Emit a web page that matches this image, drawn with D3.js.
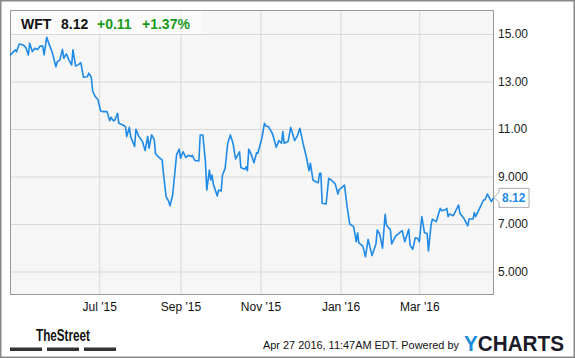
<!DOCTYPE html>
<html><head><meta charset="utf-8">
<script src="https://cdn.jsdelivr.net/npm/d3@7"></script>
<style>body{margin:0;background:#fff}svg{display:block;font-family:"Liberation Sans",Arial,sans-serif}</style>
</head><body><svg id="c" width="575" height="358"></svg>
<script>
const dates = ["2015-04-24","2015-04-28","2015-04-29","2015-05-01","2015-05-04","2015-05-06","2015-05-08","2015-05-09","2015-05-11","2015-05-13","2015-05-15","2015-05-17","2015-05-19","2015-05-20","2015-05-22","2015-05-24","2015-05-26","2015-05-29","2015-05-30","2015-06-01","2015-06-03","2015-06-04","2015-06-06","2015-06-08","2015-06-10","2015-06-11","2015-06-13","2015-06-15","2015-06-17","2015-06-19","2015-06-22","2015-06-23","2015-06-25","2015-06-26","2015-06-28","2015-06-30","2015-07-02","2015-07-04","2015-07-07","2015-07-09","2015-07-10","2015-07-12","2015-07-13","2015-07-15","2015-07-16","2015-07-19","2015-07-21","2015-07-22","2015-07-24","2015-07-25","2015-07-28","2015-07-29","2015-07-31","2015-08-03","2015-08-05","2015-08-07","2015-08-08","2015-08-10","2015-08-12","2015-08-13","2015-08-15","2015-08-18","2015-08-19","2015-08-21","2015-08-23","2015-08-24","2015-08-26","2015-08-29","2015-08-31","2015-09-01","2015-09-03","2015-09-05","2015-09-07","2015-09-09","2015-09-10","2015-09-12","2015-09-15","2015-09-16","2015-09-18","2015-09-20","2015-09-21","2015-09-23","2015-09-24","2015-09-25","2015-09-26","2015-09-29","2015-09-30","2015-10-02","2015-10-03","2015-10-05","2015-10-07","2015-10-09","2015-10-11","2015-10-13","2015-10-16","2015-10-17","2015-10-20","2015-10-21","2015-10-22","2015-10-23","2015-10-25","2015-10-27","2015-10-29","2015-10-30","2015-11-02","2015-11-04","2015-11-05","2015-11-07","2015-11-10","2015-11-13","2015-11-15","2015-11-17","2015-11-18","2015-11-19","2015-11-22","2015-11-24","2015-11-27","2015-11-29","2015-12-01","2015-12-04","2015-12-06","2015-12-08","2015-12-09","2015-12-11","2015-12-13","2015-12-15","2015-12-16","2015-12-17","2015-12-18","2015-12-21","2015-12-23","2015-12-25","2015-12-28","2015-12-30","2015-12-31","2016-01-04","2016-01-06","2016-01-08","2016-01-11","2016-01-13","2016-01-14","2016-01-15","2016-01-18","2016-01-20","2016-01-22","2016-01-25","2016-01-28","2016-01-29","2016-01-31","2016-02-02","2016-02-04","2016-02-05","2016-02-08","2016-02-09","2016-02-12","2016-02-16","2016-02-17","2016-02-19","2016-02-22","2016-02-23","2016-02-25","2016-02-27","2016-02-29","2016-03-01","2016-03-03","2016-03-05","2016-03-07","2016-03-08","2016-03-10","2016-03-11","2016-03-14","2016-03-17","2016-03-18","2016-03-21","2016-03-22","2016-03-23","2016-03-24","2016-03-27","2016-03-31","2016-04-01","2016-04-04","2016-04-07","2016-04-08","2016-04-11","2016-04-12","2016-04-13","2016-04-16","2016-04-19","2016-04-20","2016-04-22","2016-04-25","2016-04-27"];
const prices = [14.1,14.33,14.25,14.58,14.54,14.44,14.12,14.61,14.26,14.4,14.35,14.49,14.49,14.12,14.86,14.54,14.26,13.62,13.83,13.9,14.35,13.98,14.16,13.9,13.69,14.33,13.65,13.7,13.79,13.18,13.2,13.35,13.18,12.6,12.36,12.25,11.77,11.73,11.73,11.35,11.49,11.34,11.38,11.66,11.24,11.17,11.1,10.68,11.07,10.68,10.26,10.99,10.71,10.47,10.09,10.68,10.19,10.75,10.54,9.95,9.84,9.69,9.13,8.15,7.95,7.77,8.22,9.91,10.15,9.77,10.04,9.8,9.89,9.84,9.89,9.67,9.65,10.75,10.75,9.62,8.43,9.27,8.85,9.06,8.68,8.18,8.43,8.39,9.06,9.34,10.4,10.75,10.4,9.74,10.04,9.38,9.3,9.41,9.24,10.15,9.91,9.58,10.0,9.98,10.61,11.24,11.13,11.1,10.82,10.23,10.51,10.4,10.89,10.4,10.47,11.07,10.51,10.7,11.03,10.26,9.81,9.24,9.56,8.85,8.78,8.74,9.13,9.13,7.87,7.84,8.92,8.85,8.68,8.26,8.45,8.64,7.73,7.0,6.89,6.25,6.63,6.2,6.07,5.62,6.35,5.67,6.16,6.75,6.54,5.98,7.41,6.96,6.75,6.16,6.49,6.68,6.72,6.25,6.78,6.12,5.93,6.42,6.39,6.25,7.31,6.63,6.6,5.86,6.96,7.2,7.1,7.66,7.56,7.6,7.66,7.31,7.42,7.35,7.8,7.45,7.24,6.92,7.21,7.21,7.48,7.31,7.66,8.01,8.01,8.26,7.94,8.12];
const yTicks = [5,7,9,11,13,15];
const yTickLabels = ["5.000","7.000","9.000","11.00","13.00","15.00"];
const xTicks = ["2015-07-01","2015-09-01","2015-11-01","2016-01-01","2016-03-01"];
const xTickLabels = ["Jul '15","Sep '15","Nov '15","Jan '16","Mar '16"];
const ticker = "WFT", lastPrice = "8.12", change = "+0.11", changePct = "+1.37%";
const footerText = "Apr 27 2016, 11:47AM EDT. Powered by";

const parse = d3.timeParse("%Y-%m-%d");
const data = dates.map((d,i)=>({date:parse(d), v:prices[i]}));
const svg = d3.select("#c");
const L=10,T=10,R=494,B=295;
const x = d3.scaleTime().domain([parse("2015-04-24"), parse("2016-04-27")]).range([L,R]);
const y = d3.scaleLinear().domain([4.01,16.01]).range([B,T]);

svg.append("rect").attr("x",0.75).attr("y",0.75).attr("width",573.5).attr("height",356.5).attr("fill","#fff").attr("stroke","#888").attr("stroke-width",1.5);
svg.append("rect").attr("x",L).attr("y",T).attr("width",R-L).attr("height",B-T).attr("fill","#f6f6f6");

const gx = svg.append("g").attr("transform",`translate(0,${B})`)
  .call(d3.axisBottom(x).tickValues(xTicks.map(parse)).tickSize(-(B-T)).tickFormat((d,i)=>xTickLabels[i]));
gx.select(".domain").remove();
gx.selectAll("line").attr("stroke","#d8d8d8");
gx.selectAll("text").attr("font-size",12).attr("fill","#111").attr("dy",0).attr("y",16).attr("font-family","Liberation Sans, Arial, sans-serif");

const gy = svg.append("g").attr("transform",`translate(${R},0)`)
  .call(d3.axisRight(y).tickValues(yTicks).tickSize(-(R-L)).tickFormat((d,i)=>yTickLabels[i]));
gy.select(".domain").remove();
gy.selectAll("line").attr("stroke","#d8d8d8");
gy.selectAll("text").attr("font-size",12).attr("fill","#222").attr("x",4).attr("font-family","Liberation Sans, Arial, sans-serif");

svg.append("rect").attr("x",L+0.5).attr("y",T+0.5).attr("width",R-L-1).attr("height",B-T-1).attr("fill","none").attr("stroke","#999");

const line = d3.line().x(d=>x(d.date)).y(d=>y(d.v));
svg.append("path").datum(data).attr("d",line).attr("fill","none").attr("stroke","#1f8ae6").attr("stroke-width",1.6).attr("stroke-linejoin","round");

// header box
svg.append("rect").attr("x",L+1).attr("y",T+1).attr("width",191).attr("height",23).attr("fill","#fff").attr("opacity",0.55);
const hdr = svg.append("text").attr("y",29).attr("font-size",14).attr("font-weight","bold");
hdr.append("tspan").attr("x",21).attr("fill","#111").text(ticker);
hdr.append("tspan").attr("x",61).attr("fill","#111").text(lastPrice);
hdr.append("tspan").attr("x",97).attr("fill","#1a9a1a").text(change);
hdr.append("tspan").attr("x",142).attr("fill","#1a9a1a").text(changePct);

// last price tag
const last = data[data.length-1];
const ly = y(last.v);
svg.append("path").attr("d",`M${R},${ly} L${R+5},${ly-5} L${R+5},${ly-9} L${R+35},${ly-9} L${R+35},${ly+10} L${R+5},${ly+10} L${R+5},${ly+5} Z`)
  .attr("fill","#fff").attr("stroke","#aaa");
svg.append("text").attr("x",R+8).attr("y",ly+4.5).attr("font-size",12).attr("font-weight","bold").attr("fill","#1f8ae6").text(last.v.toFixed(2));

// footer
svg.append("text").attr("x",36).attr("y",341).attr("font-size",16).attr("font-weight","bold").attr("fill","#111")
  .attr("textLength",54).attr("lengthAdjust","spacingAndGlyphs").attr("font-family","Liberation Sans Narrow, Liberation Sans, Arial").text("TheStreet");
[[10,42],[47,79],[84,116]].forEach(b=>svg.append("rect").attr("x",b[0]).attr("y",347.5).attr("width",b[1]-b[0]).attr("height",3.5).attr("fill","#333"));
svg.append("text").attr("x",263).attr("y",348.5).attr("font-size",11).attr("fill","#111").attr("textLength",196).attr("lengthAdjust","spacingAndGlyphs").text(footerText);
const yc = svg.append("text").attr("x",464).attr("y",350.5).attr("font-size",22).attr("font-weight","bold").attr("textLength",100).attr("lengthAdjust","spacingAndGlyphs");
yc.append("tspan").attr("fill","#1a8cd8").text("Y");
yc.append("tspan").attr("fill","#1b1b2a").text("CHARTS");
</script></body></html>
